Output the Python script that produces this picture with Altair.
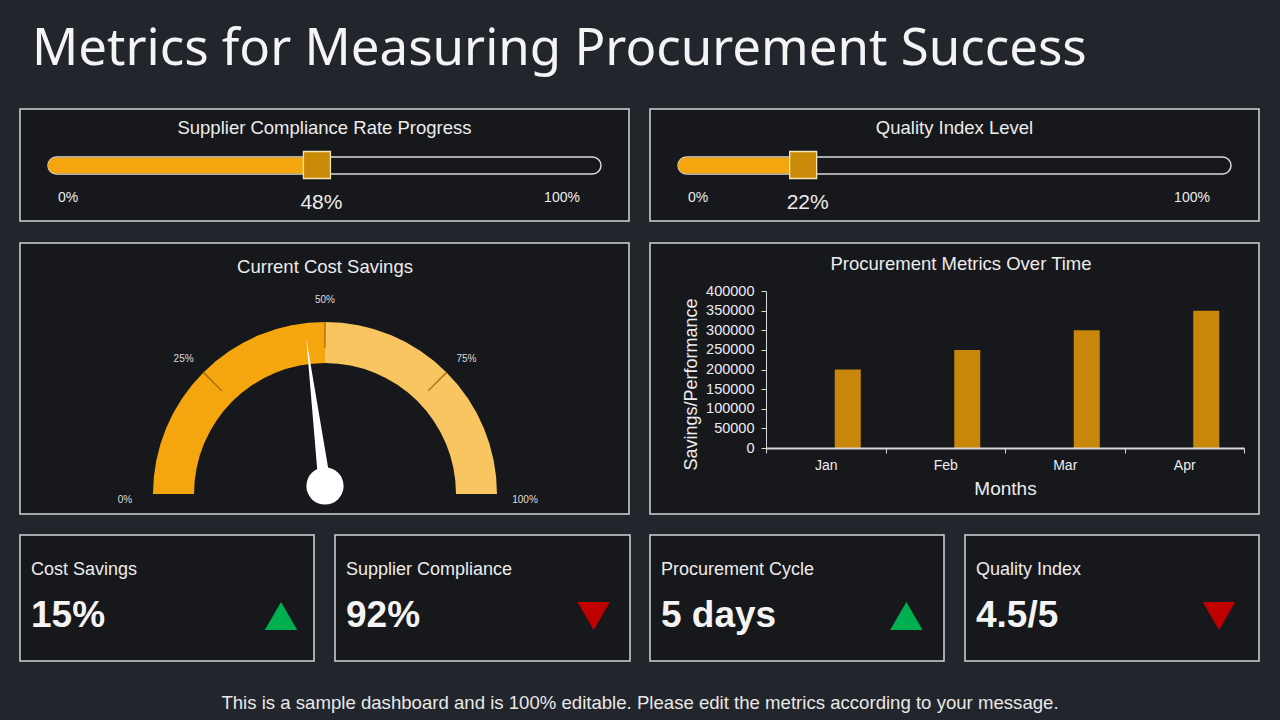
import math
import altair as alt
import pandas as pd

# ---------------- data ----------------
title_text = "Metrics for Measuring Procurement Success"
footer_text = ("This is a sample dashboard and is 100% editable. "
               "Please edit the metrics according to your message.")

slider_titles = ["Supplier Compliance Rate Progress", "Quality Index Level"]
slider_values = [48, 22]

gauge_title = "Current Cost Savings"
gauge_value = 46
gauge_band_start = [0, 50]
gauge_band_end = [50, 100]
gauge_band_name = ["low", "high"]
gauge_ticks = [0, 25, 50, 75, 100]
gauge_marks = [25, 50, 75]

bar_title = "Procurement Metrics Over Time"
months = ["Jan", "Feb", "Mar", "Apr"]
savings = [200000, 250000, 300000, 350000]

kpi_labels = ["Cost Savings", "Supplier Compliance", "Procurement Cycle", "Quality Index"]
kpi_values = ["15%", "92%", "5 days", "4.5/5"]
kpi_trend = ["up", "down", "up", "down"]

# ---------------- style ----------------
BG = "#22252c"
PANEL = "#17181c"
BORDER = "#d4d4d4"
TXT = "#ececec"
ORANGE = "#f5a60f"
LIGHT = "#f9c561"
THUMB = "#c98a08"
THUMB_EDGE = "#f3e3b5"
BAR = "#c8860a"
GREEN = "#00b050"
RED = "#c00000"
SANS = "Liberation Sans"
TITLE_FONT = "Noto Sans"

ONE = pd.DataFrame({"k": [0]})


def box(x0, y0, x1, y1):
    return alt.Chart(ONE).mark_rect(fill=PANEL, stroke=BORDER, strokeWidth=1.5).encode(
        x=alt.value(x0), x2=alt.value(x1), y=alt.value(y0), y2=alt.value(y1))


def txt(s, x, y, size, align="center", weight="normal", color=TXT, font=SANS):
    return alt.Chart(pd.DataFrame({"t": [s]})).mark_text(
        align=align, baseline="middle", fontSize=size, fontWeight=weight,
        color=color, font=font).encode(text="t:N", x=alt.value(x), y=alt.value(y))


layers = []

# panel boxes
for b in [(20, 109, 629, 221), (650, 109, 1259, 221),
          (20, 243, 629, 514), (650, 243, 1259, 514),
          (20, 535, 314, 661), (335, 535, 630, 661),
          (650, 535, 944, 661), (965, 535, 1259, 661)]:
    layers.append(box(*b))

# title & footer
layers.append(txt(title_text, 32, 50, 51, align="left", color="#f4f4f4", font=TITLE_FONT))
layers.append(txt(footer_text, 640, 703, 18.6, color="#e8e8e8"))

# ---------------- sliders ----------------
for i, (name, val) in enumerate(zip(slider_titles, slider_values)):
    x0 = [48, 678][i]
    x1 = x0 + 553
    cx = [324.5, 954.5][i]
    df = pd.DataFrame({"name": [name], "value": [val], "zero": [0]})
    xs = alt.Scale(domain=[0, 100], range=[x0, x1], nice=False, zero=False)
    layers.append(
        alt.Chart(df).mark_text(baseline="middle", fontSize=18.5, color=TXT, font=SANS)
        .encode(text="name:N", x=alt.value(cx), y=alt.value(128)))
    layers.append(
        alt.Chart(ONE).mark_rect(fill=PANEL, stroke="#d9d9d9", strokeWidth=1.5, cornerRadius=8.5)
        .encode(x=alt.value(x0), x2=alt.value(x1), y=alt.value(157), y2=alt.value(174)))
    layers.append(
        alt.Chart(df).mark_rect(fill=ORANGE, cornerRadius=8.5)
        .encode(x=alt.X("zero:Q", scale=xs, axis=None), x2="value:Q",
                y=alt.value(157.5), y2=alt.value(173.5)))
    layers.append(
        alt.Chart(df).mark_square(size=27 * 27, fill=THUMB, stroke=THUMB_EDGE, strokeWidth=1.3,
                                  opacity=1, xOffset=3.5)
        .encode(x=alt.X("value:Q", scale=xs, axis=None), y=alt.value(165)))
    layers.append(
        alt.Chart(df).transform_calculate(lbl="datum.value + '%'")
        .mark_text(baseline="middle", fontSize=21, color=TXT, font=SANS, dx=8)
        .encode(x=alt.X("value:Q", scale=xs, axis=None), y=alt.value(203), text="lbl:N"))
    layers.append(txt("0%", x0 + 20, 198, 14))
    layers.append(txt("100%", x1 - 39, 198, 14))

# ---------------- gauge ----------------
GX, GY = 325, 494
theta_scale = alt.Scale(domain=[0, 100], range=[3 * math.pi / 2, 5 * math.pi / 2])
layers.append(txt(gauge_title, 325, 267, 18.5))
gdf = pd.DataFrame({"start": gauge_band_start, "end": gauge_band_end, "band": gauge_band_name})
layers.append(
    alt.Chart(gdf).mark_arc(radius=172, radius2=131, strokeWidth=0)
    .encode(theta=alt.Theta("start:Q", scale=theta_scale, stack=None), theta2="end:Q",
            color=alt.Color("band:N", scale=alt.Scale(domain=["low", "high"], range=[ORANGE, LIGHT]),
                            legend=None),
            x=alt.value(GX), y=alt.value(GY)))
layers.append(
    alt.Chart(pd.DataFrame({"v": gauge_marks}))
    .transform_calculate(t0="datum.v - 0.15", t1="datum.v + 0.15")
    .mark_arc(radius=172, radius2=146, color="#8a5d08", opacity=0.7)
    .encode(theta=alt.Theta("t0:Q", scale=theta_scale, stack=None), theta2="t1:Q",
            x=alt.value(GX), y=alt.value(GY)))
layers.append(
    alt.Chart(pd.DataFrame({"v": gauge_ticks}))
    .transform_calculate(lbl="datum.v + '%'")
    .mark_text(radius=200, fontSize=10, color="#dcdcdc", font=SANS, baseline="middle")
    .encode(theta=alt.Theta("v:Q", scale=theta_scale, stack=None), text="lbl:N",
            x=alt.value(GX), y=alt.value(500)))
layers.append(
    alt.Chart(pd.DataFrame({"v": [gauge_value]}))
    .mark_point(shape="M -0.042 0 L 0 -1 L 0.042 0 Z", size=300 * 300, filled=True,
                color="white", opacity=1, strokeWidth=0)
    .encode(angle=alt.Angle("v:Q", scale=alt.Scale(domain=[0, 100], range=[270, 450])),
            x=alt.value(GX), y=alt.value(487)))
layers.append(
    alt.Chart(ONE).mark_circle(size=1385, color="white", opacity=1)
    .encode(x=alt.value(GX), y=alt.value(486)))

# ---------------- bar chart ----------------
layers.append(txt(bar_title, 961, 264, 18.5))
bdf = pd.DataFrame({"month": months, "value": savings})
layers.append(
    alt.Chart(bdf).mark_bar(width=26, xOffset=22, color=BAR)
    .encode(
        x=alt.X("month:N", sort=months,
                scale=alt.Scale(domain=months, range=[766, 1244], paddingInner=0, paddingOuter=0),
                axis=alt.Axis(title="Months", offset=-272, labelAngle=0, tickBand="extent",
                              zindex=2,
                              domainColor="#d9d9d9", domainWidth=2, tickColor="#d9d9d9",
                              tickSize=5, labelPadding=5, labelFontSize=14, labelColor=TXT,
                              labelFont=SANS, titleFont=SANS, titleFontSize=19,
                              titleFontWeight="normal", titleColor=TXT, titlePadding=7)),
        y=alt.Y("value:Q",
                scale=alt.Scale(domain=[0, 400000], range=[448, 291], nice=False),
                axis=alt.Axis(title="Savings/Performance", offset=-766, grid=False, zindex=2,
                              values=list(range(0, 400001, 50000)), format="d",
                              domainColor="#d9d9d9", tickColor="#d9d9d9", tickSize=5,
                              labelPadding=7, labelFontSize=14.5, labelColor=TXT, labelFont=SANS,
                              titleFont=SANS, titleFontSize=18, titleFontWeight="normal",
                              titleColor=TXT, titlePadding=5, titleY=384))))

# ---------------- KPI cards ----------------
kdf = pd.DataFrame({"label": kpi_labels, "value": kpi_values, "trend": kpi_trend})
kx = alt.Scale(type="point", domain=kpi_labels, range=[31, 976], padding=0)
layers.append(
    alt.Chart(kdf).mark_text(align="left", baseline="middle", fontSize=18, color=TXT, font=SANS)
    .encode(x=alt.X("label:N", scale=kx, axis=None), y=alt.value(570), text="label:N"))
layers.append(
    alt.Chart(kdf).mark_text(align="left", baseline="middle", fontSize=37, fontWeight="bold",
                             color="#f4f4f4", font=SANS)
    .encode(x=alt.X("label:N", scale=kx, axis=None), y=alt.value(616), text="value:N"))
layers.append(
    alt.Chart(kdf).mark_point(filled=True, opacity=1, size=1050, strokeWidth=0)
    .encode(x=alt.X("label:N", scale=alt.Scale(type="point", domain=kpi_labels,
                                               range=[281, 1219], padding=0), axis=None),
            y=alt.value(616),
            shape=alt.Shape("trend:N", scale=alt.Scale(domain=["up", "down"],
                                                       range=["triangle-up", "triangle-down"]),
                            legend=None),
            color=alt.Color("trend:N", scale=alt.Scale(domain=["up", "down"], range=[GREEN, RED]),
                            legend=None)))

chart = (
    alt.layer(*layers)
    .resolve_scale(x="independent", y="independent", color="independent", shape="independent")
    .properties(width=1280, height=720, padding=0, background=BG,
                autosize=alt.AutoSizeParams(type="none"))
    .configure_view(stroke=None)
)

chart.save("out.html", embed_options={"renderer": "svg", "actions": False})
